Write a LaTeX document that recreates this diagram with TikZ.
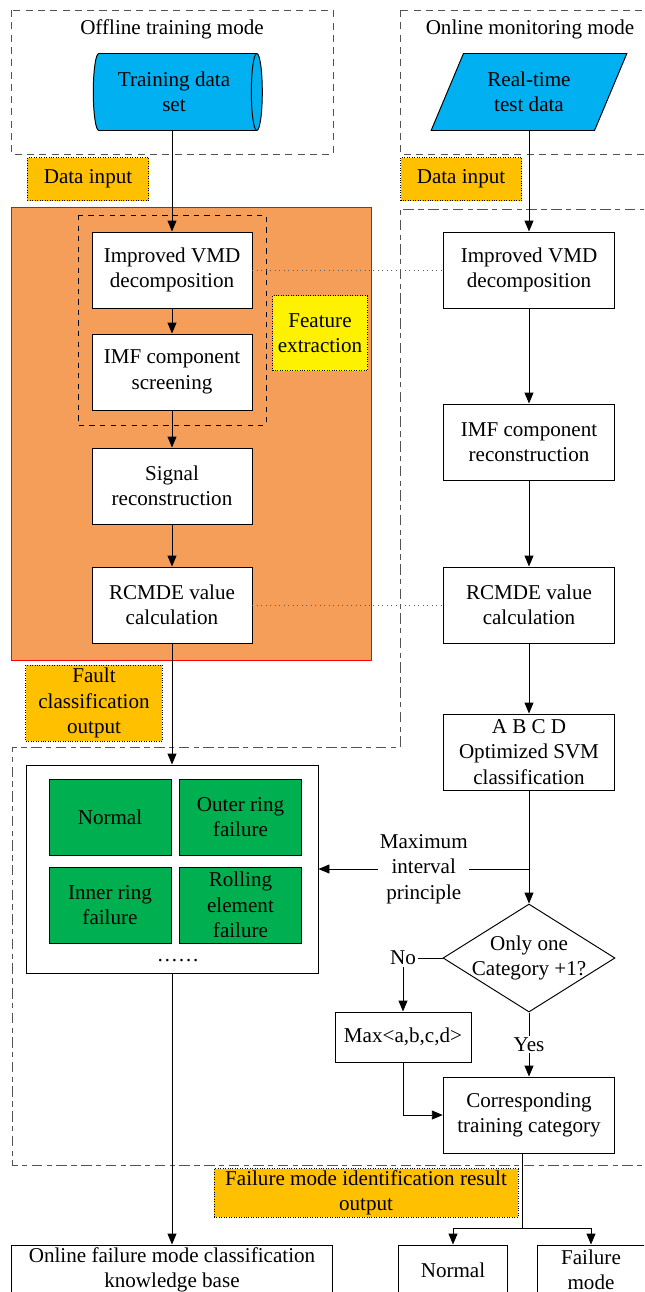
\documentclass[tikz,border=0pt]{standalone}
\usepackage{fontspec}
\setmainfont{Liberation Serif}
\usetikzlibrary{positioning}
\usetikzlibrary{shapes.geometric}
\usetikzlibrary{arrows.meta}
\definecolor{dataBlue}{RGB}{0,176,240}
\definecolor{tagOrange}{RGB}{255,192,0}
\definecolor{featOrange}{RGB}{245,158,90}
\definecolor{cellGreen}{RGB}{0,176,80}

\begin{document}
\begin{tikzpicture}[x=0.2mm, y=-0.2mm, node distance=2cm, line width=0.55pt,
  font=\fontsize{12}{14.5}\selectfont,
  blk/.style={rectangle, draw, fill=white, align=center, inner sep=1pt, minimum width=3.2cm, minimum height=1.52cm},
  rblk/.style={blk, minimum width=3.43cm},
  tag/.style={rectangle, draw, densely dotted, line width=0.4pt, fill=tagOrange, align=center, inner sep=1pt},
  cell/.style={rectangle, draw, fill=cellGreen, align=center, inner sep=1pt, minimum width=2.44cm, minimum height=1.52cm},
  res/.style={rectangle, draw, fill=white, align=center, inner sep=1pt, minimum height=1cm},
  edge/.style={draw, -{Triangle[length=2.2mm, width=1.8mm]}},
  link/.style={draw=gray!70!black, dotted},
  modebox/.style={draw=gray!65!black, dash pattern=on 4pt off 3pt},
  zoneline/.style={draw=gray!65!black, dash pattern=on 6pt off 2.5pt on 3pt off 2.5pt},
]
\useasboundingbox (0,0) rectangle (644,1292);
\clip (0,0) rectangle (644,1292);

%frames
\draw[modebox] (11,10) rectangle (333,154);
\draw[modebox] (400,10) rectangle (660,154);
\draw[zoneline] (660,209) -- (400,209) -- (400,747) -- (12,747) -- (12,1165) -- (660,1165);
\draw[red, line width=0.4pt, fill=featOrange] (11,207) rectangle (371,660);
\draw[dashed] (78,215) rectangle (266,425);

%offline side
\node (offT) at (172,29) {Offline training mode};
\node[cylinder, draw, fill=dataBlue, aspect=0.25, align=center, inner sep=1pt,
  minimum height=3.38cm, minimum width=1.54cm] (trainset) at (174,92) {Training data\\set};
\node[tag, minimum width=2.42cm, minimum height=0.86cm] (dinL) at (88,179) {Data input};
\node[blk] (vmdL) at (172,270) {Improved VMD\\decomposition};
\node[blk] (imfL) [below of=vmdL, node distance=2.04cm] {IMF component\\screening};
\node[blk] (sigL) [below of=imfL, node distance=2.28cm] {Signal\\reconstruction};
\node[blk] (rcL)  [below of=sigL, node distance=2.38cm] {RCMDE value\\calculation};
\node[tag, fill=yellow, minimum width=1.9cm, minimum height=1.5cm] (featT) at (320,333) {Feature\\extraction};
\node[tag, minimum width=2.73cm, minimum height=1.52cm] (faultT) at (94,703) {Fault\\classification\\output};

%knowledge box
\node[draw, fill=white, minimum width=5.84cm, minimum height=4.16cm] (kbox) at (172,869) {};
\node[cell] (cNorm) at (110,817) {Normal};
\node[cell] (cOut)  [right of=cNorm, node distance=2.61cm] {Outer ring\\failure};
\node[cell] (cIn)   [below of=cNorm, node distance=1.76cm] {Inner ring\\failure};
\node[cell] (cRoll) [right of=cIn, node distance=2.61cm] {Rolling\\element\\failure};
\node (dots) at (178,961) {……};
\node[res, minimum width=6.41cm] (kbase) at (172,1270) {Online failure mode classification\\knowledge base};

%online side
\node (onT) at (530,29) {Online monitoring mode};
\node[trapezium, trapezium left angle=64, trapezium right angle=116, trapezium stretches=true,
  draw, fill=dataBlue, align=center, inner sep=1pt,
  minimum width=3.94cm, minimum height=1.54cm] (realdata) at (529,92) {Real-time\\test data};
\node[tag, minimum width=2.42cm, minimum height=0.86cm] (dinR) at (461,179) {Data input};
\node[rblk] (vmdR) [right of=vmdL, node distance=7.14cm] {Improved VMD\\decomposition};
\node[rblk] (imfR) [below of=vmdR, node distance=3.44cm] {IMF component\\reconstruction};
\node[rblk] (rcR)  [below of=imfR, node distance=3.26cm] {RCMDE value\\calculation};
\node[rblk] (svmR) [below of=rcR, node distance=2.94cm] {A B C D\\Optimized SVM\\classification};
\node[diamond, draw, inner sep=0pt, minimum width=3.44cm, minimum height=2.16cm] (check) [below of=svmR, node distance=4.12cm] {};
\node[align=center] (checkT) at (check) {Only one\\Category +1?};
\node[blk, minimum width=2.72cm, minimum height=1cm] (maxB) at (403,1037) {Max\textless a,b,c,d\textgreater};
\node[rblk] (corrR) [below of=check, node distance=3.14cm] {Corresponding\\training category};
\node[tag, minimum width=6.08cm, minimum height=0.96cm] (failT) at (366,1193) {Failure mode identification result\\output};
\node[res, minimum width=2.18cm] (rNorm) at (453,1270) {Normal};
\node[res, minimum width=2.16cm] (rFail) at (591,1270) {Failure\\mode};
\coordinate (split) at (522,1228);

\foreach \fr / \tonode in {vmdL/imfL, imfL/sigL, sigL/rcL,
  rcL/kbox, kbox/kbase, vmdR/imfR, imfR/rcR, rcR/svmR, svmR/check}
\draw[edge] (\fr) -- (\tonode);
\draw[edge] (trainset.south -| vmdL) -- (vmdL);
\draw[edge] (realdata.south -| vmdR) -- (vmdR);

\draw[link] (vmdL) -- (vmdR);
\draw[link] (rcL) -- (rcR);
\draw[edge] (kbox -| svmR) -- node[fill=white, inner sep=1pt, align=center] {Maximum\\interval\\principle} (kbox);
\draw[edge] (check) -| node[fill=white, inner sep=1pt] {No} (maxB);
\draw[edge] (check) -- node[fill=white, inner sep=1pt] {Yes} (corrR);
\draw[edge] (maxB) |- (corrR);
\draw (corrR.south -| split) -- (split);
\draw[edge] (split) -| (rNorm);
\draw[edge] (split) -| (rFail);
\end{tikzpicture}
\end{document}
